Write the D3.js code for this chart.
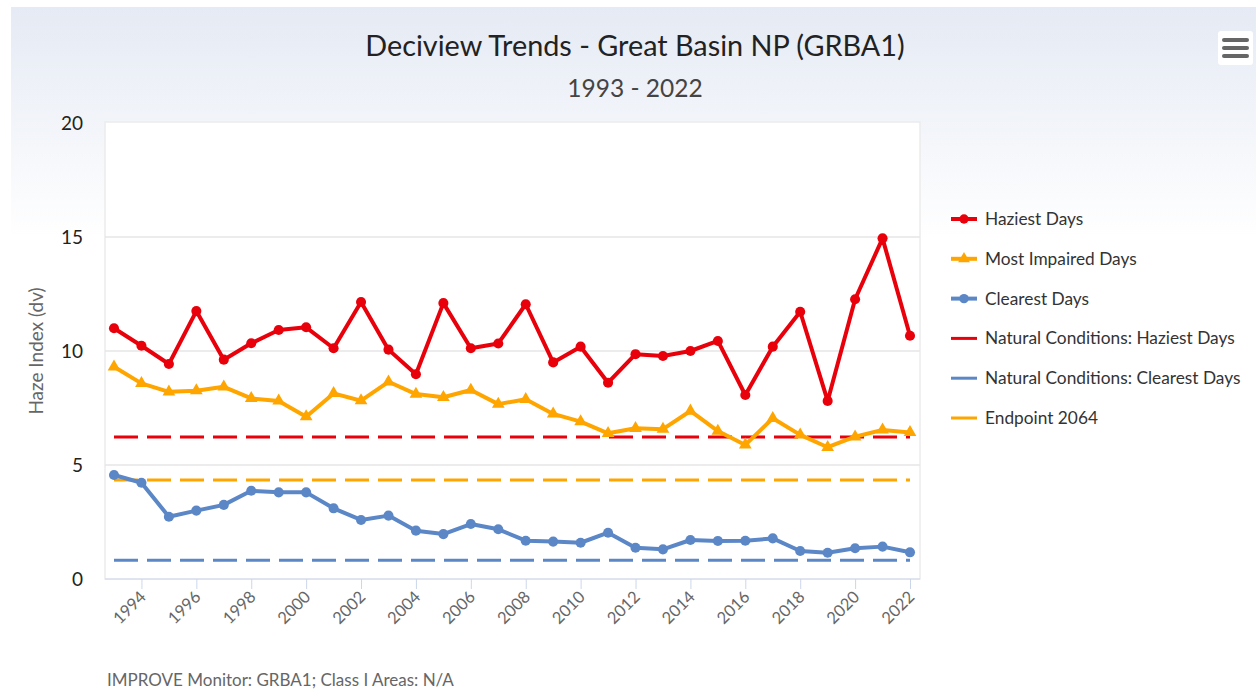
<!DOCTYPE html>
<html>
<head>
<meta charset="utf-8">
<script src="https://cdn.jsdelivr.net/npm/d3@7"></script>
<style>
  body { margin: 0; background: #fff; }
  text { font-family: Lato, "Open Sans", sans-serif; }
</style>
</head>
<body>
<svg id="chart" width="1256" height="690"></svg>
<script>
// data
var years = d3.range(1993, 2023);
var haziest = [11.0, 10.23, 9.43, 11.75, 9.62, 10.34, 10.92, 11.04, 10.12, 12.15,
  10.06, 8.98, 12.1, 10.12, 10.33, 12.05, 9.5, 10.19, 8.61, 9.86,
  9.78, 10.0, 10.44, 8.07, 10.19, 11.72, 7.81, 12.27, 14.94, 10.67];
var impaired = [9.31, 8.58, 8.21, 8.26, 8.43, 7.92, 7.81, 7.12, 8.14, 7.82,
  8.65, 8.11, 7.97, 8.29, 7.67, 7.88, 7.24, 6.9, 6.39, 6.61,
  6.57, 7.37, 6.49, 5.88, 7.05, 6.32, 5.78, 6.24, 6.54, 6.43];
var clearest = [4.56, 4.22, 2.73, 3.0, 3.25, 3.87, 3.8, 3.8, 3.1, 2.59,
  2.78, 2.12, 1.97, 2.41, 2.18, 1.68, 1.64, 1.59, 2.03, 1.37,
  1.3, 1.71, 1.67, 1.68, 1.78, 1.23, 1.15, 1.35, 1.42, 1.17];
var naturalHaziest = 6.23;
var naturalClearest = 0.82;
var endpoint2064 = 4.34;
var yTicks = [0, 5, 10, 15, 20];
var xTicks = d3.range(1994, 2023, 2);

var legendNames = ["Haziest Days", "Most Impaired Days", "Clearest Days",
  "Natural Conditions: Haziest Days", "Natural Conditions: Clearest Days", "Endpoint 2064"];

var red = "#e8000b", orange = "#ffa500", blue = "#5b87c7";

var svg = d3.select("#chart");

// background gradient
var defs = svg.append("defs");
var grad = defs.append("linearGradient").attr("id", "bg")
  .attr("x1", 0).attr("y1", 0).attr("x2", 0).attr("y2", 1);
grad.append("stop").attr("offset", "0").attr("stop-color", "#e5eaf4");
grad.append("stop").attr("offset", "0.34").attr("stop-color", "#ffffff");
svg.append("rect").attr("x", 11).attr("y", 7).attr("width", 1245).attr("height", 683)
  .attr("fill", "url(#bg)");

var plot = {left: 105, top: 122, right: 920, bottom: 579};

svg.append("rect")
  .attr("x", plot.left).attr("y", plot.top)
  .attr("width", plot.right - plot.left).attr("height", plot.bottom - plot.top)
  .attr("fill", "#fff").attr("stroke", "#ececec").attr("stroke-width", 1.5);

var x = d3.scaleLinear().domain([1993, 2022]).range([114, 910]);
var y = d3.scaleLinear().domain([0, 20]).range([plot.bottom, 123]);

// grid
svg.append("g").selectAll("line").data([5, 10, 15]).enter().append("line")
  .attr("x1", plot.left).attr("x2", plot.right)
  .attr("y1", function(d) { return y(d); }).attr("y2", function(d) { return y(d); })
  .attr("stroke", "#e6e6e6").attr("stroke-width", 1.5);

// y axis labels
var yAxis = svg.append("g").attr("transform", "translate(83,0)")
  .call(d3.axisLeft(y).tickValues(yTicks).tickSize(0).tickPadding(0));
yAxis.select(".domain").remove();
yAxis.selectAll("text").attr("font-size", 19).attr("fill", "#222")
  .style("font-family", "Lato, sans-serif");

svg.append("text")
  .attr("transform", "translate(43,351) rotate(-90)")
  .attr("text-anchor", "middle")
  .attr("font-size", 19).attr("fill", "#666")
  .text("Haze Index (dv)");

// x axis
var xAxis = svg.append("g").attr("transform", "translate(0," + plot.bottom + ")")
  .call(d3.axisBottom(x).tickValues(xTicks).tickFormat(d3.format("d")).tickSize(10));
xAxis.select(".domain").attr("stroke", "#ccd6eb").attr("d", "M" + plot.left + ",0H" + plot.right);
xAxis.selectAll(".tick line").attr("stroke", "#ccd6eb");
xAxis.selectAll("text")
  .attr("font-size", 16.5).attr("fill", "#666")
  .style("font-family", "Lato, sans-serif")
  .attr("text-anchor", "end")
  .attr("x", 0).attr("y", 0).attr("dy", null)
  .attr("transform", "translate(5,19) rotate(-45)");

// dashed reference lines
function refLine(v, color) {
  svg.append("line")
    .attr("x1", x(1993)).attr("x2", x(2022))
    .attr("y1", y(v)).attr("y2", y(v))
    .attr("stroke", color).attr("stroke-width", 3)
    .attr("stroke-dasharray", "24,9");
}
refLine(naturalHaziest, red);
refLine(endpoint2064, orange);
refLine(naturalClearest, blue);

var line = d3.line()
  .x(function(d, i) { return x(years[i]); })
  .y(function(d) { return y(d); });

function series(vals, color, shape) {
  svg.append("path").datum(vals)
    .attr("d", line).attr("fill", "none")
    .attr("stroke", color).attr("stroke-width", 4).attr("stroke-linejoin", "round");
  var sym = d3.symbol().type(shape === "tri" ? d3.symbolTriangle : d3.symbolCircle)
    .size(shape === "tri" ? 70 : 80);
  svg.append("g").selectAll("path").data(vals).enter().append("path")
    .attr("d", sym)
    .attr("transform", function(d, i) { return "translate(" + x(years[i]) + "," + y(d) + ")"; })
    .attr("fill", color);
}
series(haziest, red, "circle");
series(impaired, orange, "tri");
series(clearest, blue, "circle");

// legend
var legendColors = [red, orange, blue, red, blue, orange];
var legendMarker = ["circle", "tri", "circle", null, null, null];
var lg = svg.append("g");
legendNames.forEach(function(name, i) {
  var ly = 219 + i * 39.8;
  lg.append("line").attr("x1", 951).attr("x2", 977).attr("y1", ly).attr("y2", ly)
    .attr("stroke", legendColors[i]).attr("stroke-width", legendMarker[i] ? 4 : 3);
  if (legendMarker[i]) {
    lg.append("path")
      .attr("d", d3.symbol().type(legendMarker[i] === "tri" ? d3.symbolTriangle : d3.symbolCircle)
        .size(legendMarker[i] === "tri" ? 60 : 70))
      .attr("transform", "translate(964," + ly + ")")
      .attr("fill", legendColors[i]);
  }
  lg.append("text").attr("x", 985).attr("y", ly + 6)
    .attr("font-size", 17.3).attr("fill", "#333").text(name);
});

// titles
svg.append("text").attr("x", 635).attr("y", 56).attr("text-anchor", "middle")
  .attr("font-size", 28.8).attr("fill", "#222")
  .text("Deciview Trends - Great Basin NP (GRBA1)");
svg.append("text").attr("x", 635).attr("y", 97).attr("text-anchor", "middle")
  .attr("font-size", 24.5).attr("fill", "#444")
  .text("1993 - 2022");

svg.append("text").attr("x", 107).attr("y", 686)
  .attr("font-size", 17).attr("fill", "#666")
  .text("IMPROVE Monitor: GRBA1; Class I Areas: N/A");

// menu button
var menu = svg.append("g");
menu.append("rect").attr("x", 1218).attr("y", 31).attr("width", 35).attr("height", 34).attr("rx", 3)
  .attr("fill", "#fff");
[40, 48, 56].forEach(function(by) {
  menu.append("line").attr("x1", 1224).attr("x2", 1247).attr("y1", by).attr("y2", by)
    .attr("stroke", "#666").attr("stroke-width", 4).attr("stroke-linecap", "round");
});
</script>
</body>
</html>
